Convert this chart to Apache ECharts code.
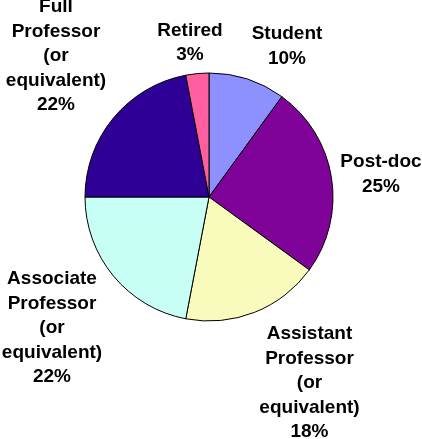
<!DOCTYPE html>
<html>
<head>
<meta charset="utf-8">
<script src="https://cdn.jsdelivr.net/npm/echarts@6/dist/echarts.min.js"></script>
<style>
html,body{margin:0;padding:0;background:#fff;}
#chart{width:422px;height:439px;}
</style>
</head>
<body>
<div id="chart"></div>
<script>
// Data
const categories = [
  'Student',
  'Post-doc',
  'Assistant\nProfessor\n(or\nequivalent)',
  'Associate\nProfessor\n(or\nequivalent)',
  'Full\nProfessor\n(or\nequivalent)',
  'Retired'
];
const percentages = [10, 25, 18, 22, 22, 3];

// Styling (not data)
const sliceColors = ['#8c91ff', '#7f0399', '#f8fbbb', '#c8fff4', '#2e0096', '#ff5f9e'];
const labelCenters = [
  [287, 46.5],
  [381, 174.5],
  [309.5, 383],
  [52, 328],
  [56, 56],
  [190, 43]
];

const chart = echarts.init(document.getElementById('chart'), null, {renderer: 'canvas'});
chart.setOption({
  animation: false,
  backgroundColor: '#ffffff',
  series: [{
    type: 'pie',
    center: [209, 197],
    radius: 124,
    startAngle: 90,
    clockwise: true,
    avoidLabelOverlap: false,
    silent: true,
    data: categories.map((c, i) => ({
      name: c,
      value: percentages[i],
      itemStyle: {color: sliceColors[i]}
    })),
    itemStyle: {borderColor: '#000', borderWidth: 1},
    label: {
      show: true,
      position: 'outside',
      formatter: p => p.name + '\n' + p.value + '%',
      fontFamily: '"Liberation Sans", Arial, sans-serif',
      fontWeight: 'bold',
      fontSize: 19,
      lineHeight: 24.5,
      color: '#000',
      align: 'center'
    },
    labelLine: {show: false},
    labelLayout: function (params) {
      const p = labelCenters[params.dataIndex];
      return {x: p[0], y: p[1], align: 'center', verticalAlign: 'middle'};
    },
    emphasis: {disabled: true}
  }]
});
</script>
</body>
</html>
